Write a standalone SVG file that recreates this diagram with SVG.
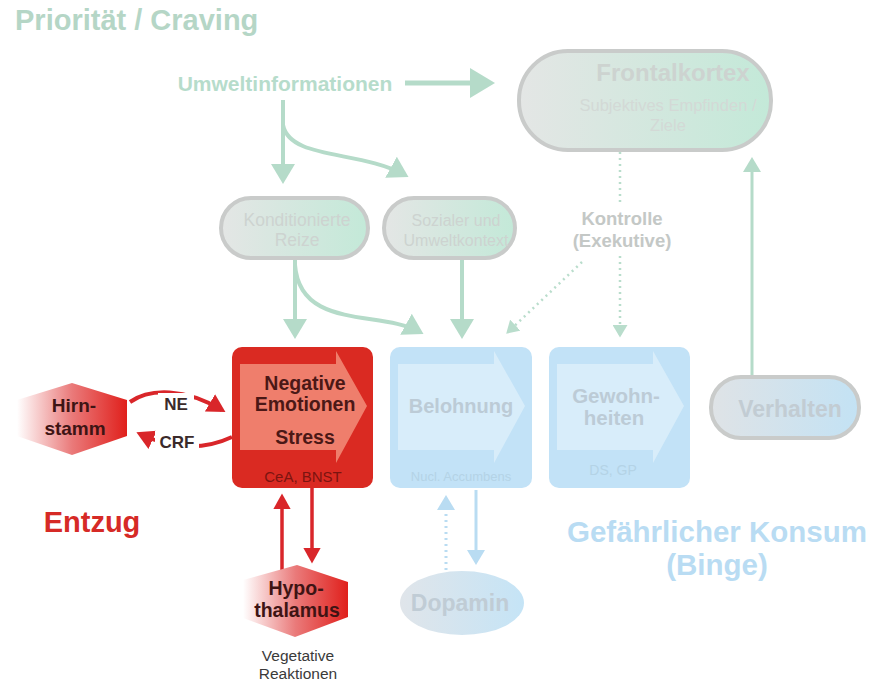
<svg xmlns="http://www.w3.org/2000/svg" width="882" height="684" viewBox="0 0 882 684">
<defs>
<linearGradient id="gpill" x1="0" y1="0" x2="1" y2="0">
<stop offset="0" stop-color="#e4e6e5"/><stop offset="1" stop-color="#c3e9d8"/>
</linearGradient>
<linearGradient id="bpill" x1="0" y1="0" x2="1" y2="0">
<stop offset="0" stop-color="#dfe3e6"/><stop offset="1" stop-color="#c3e2f4"/>
</linearGradient>
<linearGradient id="dop" x1="0" y1="0" x2="1" y2="0">
<stop offset="0" stop-color="#e0e5ea"/><stop offset="1" stop-color="#c5e4f6"/>
</linearGradient>
<linearGradient id="hex" x1="0" y1="0" x2="1" y2="0">
<stop offset="0" stop-color="#ffffff"/><stop offset="0.5" stop-color="#ea7a7a"/><stop offset="1" stop-color="#e0201c"/>
</linearGradient>
<marker id="ag" markerWidth="6" markerHeight="6" refX="4" refY="3" orient="auto" markerUnits="strokeWidth"><path d="M0,0 L5,3 L0,6 Z" fill="#b5dbc9"/></marker>
<marker id="agd" markerWidth="6" markerHeight="6" refX="4" refY="3" orient="auto" markerUnits="strokeWidth"><path d="M0,0 L5,3 L0,6 Z" fill="#b9ddcc"/></marker>
<marker id="ar" markerWidth="5" markerHeight="5" refX="3.5" refY="2.5" orient="auto" markerUnits="strokeWidth"><path d="M0,0 L4.5,2.5 L0,5 Z" fill="#d9262a"/></marker>
<marker id="ab" markerWidth="6" markerHeight="6" refX="4" refY="3" orient="auto" markerUnits="strokeWidth"><path d="M0,0 L5,3 L0,6 Z" fill="#b9dcf2"/></marker>
<style>
text{font-family:"Liberation Sans",Arial,sans-serif;text-anchor:middle}
.b{font-weight:bold}
.pill{stroke:#c9cbca;stroke-width:4}
.gl{fill:none;stroke:#b5dbc9;stroke-width:4}
.gd{fill:none;stroke:#b9ddcc;stroke-width:2.5;stroke-dasharray:2 4}
.rl{fill:none;stroke:#d9262a;stroke-width:4}
.bl{fill:none;stroke:#b9dcf2;stroke-width:3}
.pt{fill:#cdd3d0}
</style>
</defs>

<text x="15" y="30" class="b" font-size="29" fill="#b5d6c6" style="text-anchor:start">Priorität / Craving</text>
<text x="285" y="91" class="b" font-size="21" fill="#b6dccb">Umweltinformationen</text>

<g id="connectors">
<line x1="405" y1="83" x2="490" y2="83" class="gl" style="stroke-width:5" marker-end="url(#ag)"/>
<line x1="283" y1="100" x2="283" y2="180" class="gl" marker-end="url(#ag)"/>
<path d="M283,125 C290,160 360,150 405,175" class="gl" marker-end="url(#ag)"/>
<line x1="295" y1="258" x2="295" y2="335" class="gl" marker-end="url(#ag)"/>
<path d="M295,265 C300,330 380,310 420,332" class="gl" marker-end="url(#ag)"/>
<line x1="462" y1="258" x2="462" y2="335" class="gl" marker-end="url(#ag)"/>
<line x1="620" y1="152" x2="620" y2="202" class="gd"/>
<line x1="620" y1="256" x2="620" y2="335" class="gd" marker-end="url(#agd)"/>
<line x1="582" y1="262" x2="508" y2="332" class="gd" marker-end="url(#agd)"/>
<line x1="752" y1="376" x2="752" y2="160" class="gl" style="stroke-width:3" marker-end="url(#ag)"/>
<path d="M130,402 C150,388 185,388 222,410" class="rl" marker-end="url(#ar)"/>
<path d="M232,437 C200,452 170,448 140,434" class="rl" marker-end="url(#ar)"/>
<line x1="282" y1="572" x2="282" y2="497" class="rl" style="stroke-width:3.5" marker-end="url(#ar)"/>
<line x1="312" y1="488" x2="312" y2="560" class="rl" style="stroke-width:3.5" marker-end="url(#ar)"/>
<line x1="446" y1="570" x2="446" y2="498" class="bl" style="stroke-dasharray:2 4" marker-end="url(#ab)"/>
<line x1="476" y1="490" x2="476" y2="562" class="bl" marker-end="url(#ab)"/>
</g>

<g id="frontalkortex">
<rect x="519" y="51" width="252" height="99" rx="49" fill="url(#gpill)" class="pill"/>
<text x="673" y="81" class="b pt" font-size="24">Frontalkortex</text>
<text x="668" y="111" font-size="16.5" fill="#d3d9d6">Subjektives Empfinden /</text>
<text x="668" y="131" font-size="16.5" fill="#d3d9d6">Ziele</text>
</g>

<g id="konditionierte">
<rect x="221" y="198" width="147" height="60" rx="30" fill="url(#gpill)" class="pill"/>
<text x="297" y="226" class="pt" font-size="17.5">Konditionierte</text>
<text x="297" y="246" class="pt" font-size="17.5">Reize</text>
</g>

<g id="sozial">
<rect x="384" y="198" width="131" height="60" rx="30" fill="url(#gpill)" class="pill"/>
<text x="456" y="226" class="pt" font-size="16">Sozialer und</text>
<text x="456" y="246" class="pt" font-size="16">Umweltkontext</text>
</g>

<g id="kontrolle">
<text x="622" y="225" class="b" font-size="18.5" fill="#c4c8c6">Kontrolle</text>
<text x="622" y="247" class="b" font-size="18.5" fill="#c4c8c6">(Exekutive)</text>
</g>

<g id="negative">
<rect x="232" y="347" width="141" height="141" rx="10" fill="#da2a22"/>
<path d="M240,364 L336,364 L336,351 L367,406 L336,463 L336,450 L240,450 Z" fill="#ef7e6c"/>
<text x="305" y="390" class="b" font-size="19.5" fill="#4b1816">Negative</text>
<text x="305" y="411" class="b" font-size="19.5" fill="#4b1816">Emotionen</text>
<text x="305" y="444" class="b" font-size="19.5" fill="#4b1816">Stress</text>
<text x="303" y="482" font-size="15" fill="#7c1410">CeA, BNST</text>
</g>

<g id="belohnung">
<rect x="390" y="347" width="142" height="141" rx="10" fill="#c2e2f7"/>
<path d="M398,364 L494,364 L494,351 L525,406 L494,463 L494,450 L398,450 Z" fill="#d8edfa"/>
<text x="461" y="413" class="b" font-size="20" fill="#bccbd6">Belohnung</text>
<text x="461" y="481" font-size="13" fill="#b4d3e6">Nucl. Accumbens</text>
</g>

<g id="gewohnheiten">
<rect x="549" y="347" width="141" height="141" rx="10" fill="#c2e2f7"/>
<path d="M557,364 L653,364 L653,351 L684,406 L653,463 L653,450 L557,450 Z" fill="#d8edfa"/>
<text x="616" y="403" class="b" font-size="20.5" fill="#bccbd6">Gewohn-</text>
<text x="614" y="425" class="b" font-size="20.5" fill="#bccbd6">heiten</text>
<text x="613" y="475" font-size="14" fill="#b4d3e6">DS, GP</text>
</g>

<g id="verhalten">
<rect x="711" y="377" width="148" height="61" rx="30" fill="url(#bpill)" class="pill"/>
<text x="790" y="417" class="b" font-size="23" fill="#c2ccd3">Verhalten</text>
</g>

<g id="hirnstamm">
<polygon points="72,383 127,400 127,436 72,455 17,436 17,400" fill="url(#hex)"/>
<text x="74" y="412" class="b" font-size="19" fill="#3e1414">Hirn-</text>
<text x="75" y="435" class="b" font-size="19" fill="#3e1414">stamm</text>
</g>

<rect x="158" y="393" width="36" height="20" fill="#ffffff"/>
<text x="176" y="410" class="b" font-size="17" fill="#3a2a2a">NE</text>
<rect x="155" y="431" width="44" height="20" fill="#ffffff"/>
<text x="177" y="448" class="b" font-size="17" fill="#3a2a2a">CRF</text>

<text x="92" y="532" class="b" font-size="29" fill="#d62a26">Entzug</text>

<g id="hypothalamus">
<polygon points="297,565 348,582 348,617 295,637 243,618 243,580" fill="url(#hex)"/>
<text x="296" y="595" class="b" font-size="19.5" fill="#3e1414">Hypo-</text>
<text x="297" y="617" class="b" font-size="19.5" fill="#3e1414">thalamus</text>
</g>
<text x="298" y="661" font-size="15.5" fill="#3a3a3a">Vegetative</text>
<text x="298" y="679" font-size="15.5" fill="#3a3a3a">Reaktionen</text>

<g id="dopamin">
<ellipse cx="462" cy="603" rx="62" ry="32" fill="url(#dop)"/>
<text x="460" y="611" class="b" font-size="23" fill="#c0ccd5">Dopamin</text>
</g>

<text x="717" y="542" class="b" font-size="29.5" fill="#b9dcf3">Gefährlicher Konsum</text>
<text x="717" y="575" class="b" font-size="29.5" fill="#b9dcf3">(Binge)</text>
</svg>
